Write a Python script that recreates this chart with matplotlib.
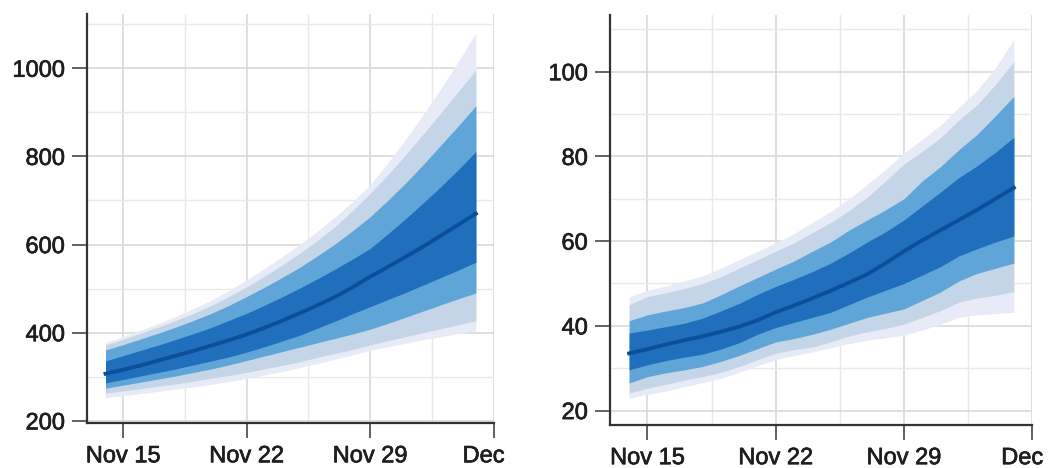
import pandas as pd
import matplotlib
matplotlib.use("Agg")
import matplotlib.pyplot as plt
import matplotlib.patheffects as pe
from matplotlib.ticker import MultipleLocator
from matplotlib.transforms import Bbox, TransformedBbox

plt.rcParams['font.family'] = ['Liberation Sans', 'DejaVu Sans']

# Daily forecast dates (Nov 14 - Dec 5)
dates = pd.date_range("2020-11-14", "2020-12-05", freq="D")
tick_dates = pd.to_datetime(["2020-11-15", "2020-11-22", "2020-11-29", "2020-12-06"])
tick_labels = ["Nov 15", "Nov 22", "Nov 29", "Dec 6"]
minor_dates = pd.to_datetime(["2020-11-18 12:00", "2020-11-25 12:00", "2020-12-02 12:00"])

# Left panel: median and quantile bands (outer -> inner)
left_median = [307, 316, 326, 337, 348, 359, 371, 383, 396, 411, 427, 444, 462, 481,
               503, 527, 549, 572, 595, 620, 645, 670]
left_lav_hi = [377, 391, 406, 421, 437, 455, 474, 496, 520, 545, 572, 600, 630, 662,
               697, 735, 785, 838, 894, 953, 1015, 1080]
left_lav_lo = [253, 257, 262, 267, 272, 277, 283, 289, 296, 304, 312, 321, 330, 340,
               350, 360, 368, 376, 384, 391, 398, 405]
left_gray_hi = [372, 385, 399, 413, 428, 444, 462, 482, 504, 528, 553, 580, 609, 640,
                677, 716, 758, 803, 850, 898, 947, 996]
left_gray_lo = [263, 268, 273, 279, 284, 290, 297, 303, 310, 318, 326, 334, 344, 353,
                362, 372, 382, 391, 400, 409, 418, 427]
left_mid_hi = [361, 373, 386, 399, 413, 428, 444, 462, 482, 503, 525, 548, 574, 601,
               631, 663, 700, 739, 781, 825, 869, 915]
left_mid_lo = [274, 281, 288, 295, 302, 310, 318, 327, 337, 347, 357, 367, 377, 387,
               397, 408, 421, 435, 449, 463, 477, 490]
left_in_hi = [336, 348, 360, 372, 385, 398, 412, 428, 444, 462, 481, 501, 522, 544,
              567, 591, 624, 658, 694, 731, 770, 811]
left_in_lo = [286, 294, 302, 310, 318, 327, 336, 345, 356, 368, 381, 394, 410, 426,
              443, 459, 475, 491, 508, 525, 542, 560]

# Right panel
right_median = [33.5, 34.5, 35.6, 36.6, 37.5, 38.6, 39.8, 41.3, 43.2, 44.8, 46.5, 48.3,
                50.2, 52.2, 54.8, 57.6, 60.2, 62.6, 65.0, 67.4, 70.0, 72.6]
right_lav_hi = [46.8, 48.4, 49.4, 50.6, 51.8, 53.6, 55.6, 57.6, 59.6, 61.8, 64.4, 67.0,
                70.0, 73.4, 77.0, 80.8, 84.0, 87.4, 91.6, 95.6, 101.0, 107.6]
right_lav_lo = [22.9, 23.8, 24.6, 25.6, 26.6, 27.6, 29.0, 30.6, 32.0, 33.0, 33.8, 34.8,
                35.8, 36.6, 37.2, 37.8, 39.0, 40.4, 42.0, 42.6, 42.9, 43.2]
right_gray_hi = [45.0, 46.9, 47.8, 48.8, 50.0, 51.6, 53.6, 55.6, 57.6, 59.6, 62.0, 64.4,
                 67.2, 70.4, 74.2, 78.2, 81.2, 84.4, 88.6, 92.2, 97.0, 102.4]
right_gray_lo = [24.1, 25.3, 26.2, 27.2, 28.0, 29.0, 30.4, 32.0, 33.5, 34.4, 35.0, 36.2,
                 37.6, 38.6, 39.4, 40.4, 42.0, 43.6, 45.6, 46.6, 47.2, 48.1]
right_mid_hi = [41.2, 42.6, 43.5, 44.3, 45.4, 47.3, 49.4, 51.4, 53.4, 55.3, 57.6, 59.8,
                62.6, 65.0, 67.4, 70.0, 74.2, 77.6, 81.6, 85.2, 89.6, 94.2]
right_mid_lo = [26.5, 28.0, 28.9, 29.6, 30.4, 31.6, 33.0, 34.6, 36.2, 37.0, 38.0, 39.2,
                40.6, 42.0, 43.0, 44.0, 46.0, 48.0, 50.6, 52.4, 53.6, 54.8]
right_in_hi = [38.3, 39.0, 39.8, 40.6, 41.8, 43.5, 45.3, 47.4, 49.3, 51.0, 52.8, 54.8,
               57.2, 59.8, 62.2, 65.0, 68.3, 71.6, 75.0, 77.8, 81.0, 84.5]
right_in_lo = [29.6, 30.8, 31.8, 32.6, 33.3, 34.5, 36.0, 38.0, 39.6, 40.8, 42.0, 43.2,
               45.0, 46.8, 48.4, 50.0, 52.0, 54.0, 56.5, 58.2, 59.8, 61.2]

band_colors = ["#e7ebf8", "#c3d5e6", "#5fa5d8", "#1f6fbd"]
median_color = "#0b4f99"

fig = plt.figure(figsize=(10.5, 4.68), dpi=100)
ax1 = fig.add_axes([0.083, 0.096, 0.387, 0.874])
ax2 = fig.add_axes([0.581, 0.092, 0.402, 0.876])

panels = [
    (ax1, left_median, [(left_lav_lo, left_lav_hi), (left_gray_lo, left_gray_hi),
                        (left_mid_lo, left_mid_hi), (left_in_lo, left_in_hi)],
     (195, 1123), 200),
    (ax2, right_median, [(right_lav_lo, right_lav_hi), (right_gray_lo, right_gray_hi),
                         (right_mid_lo, right_mid_hi), (right_in_lo, right_in_hi)],
     (16.6, 113.4), 20),
]

for ax, med, bands, ylim, ystep in panels:
    for (lo, hi), c in zip(bands, band_colors):
        ax.fill_between(dates, lo, hi, color=c, linewidth=0, zorder=2)
    ax.plot(dates, med, color=median_color, linewidth=2.8, zorder=3)

    ax.set_xlim(pd.Timestamp("2020-11-12 23:00"), pd.Timestamp("2020-12-06"))
    ax.set_ylim(*ylim)
    ax.set_xticks(tick_dates)
    ax.set_xticklabels(tick_labels)
    ax.set_xticks(minor_dates, minor=True)
    ax.yaxis.set_major_locator(MultipleLocator(ystep))
    ax.yaxis.set_minor_locator(MultipleLocator(ystep / 2))

    ax.grid(True, which="major", color="#d6d6d6", linewidth=1.1, zorder=0)
    ax.grid(True, which="minor", color="#e9e9e9", linewidth=1.0, zorder=0)
    ax.set_axisbelow(True)

    for s in ["top", "right"]:
        ax.spines[s].set_visible(False)
    for s in ["left", "bottom"]:
        ax.spines[s].set_color("#333333")
        ax.spines[s].set_linewidth(1.6)

    ax.tick_params(which="major", length=11, width=1.3, color="#555555",
                   labelsize=17, labelcolor="#1e1e1e", pad=5)
    ax.tick_params(which="minor", length=0)
    for lab in ax.get_xticklabels() + ax.get_yticklabels():
        lab.set_path_effects([pe.withStroke(linewidth=0.5, foreground="#1e1e1e")])

# the last date label is cut off in the original
for lab, clip_x in [(ax1.get_xticklabels()[-1], 0.486), (ax2.get_xticklabels()[-1], 1.0)]:
    lab.set_clip_box(TransformedBbox(Bbox([[0, 0], [clip_x, 1]]), fig.transFigure))
    lab.set_clip_on(True)

fig.savefig("out.png", dpi=100)
